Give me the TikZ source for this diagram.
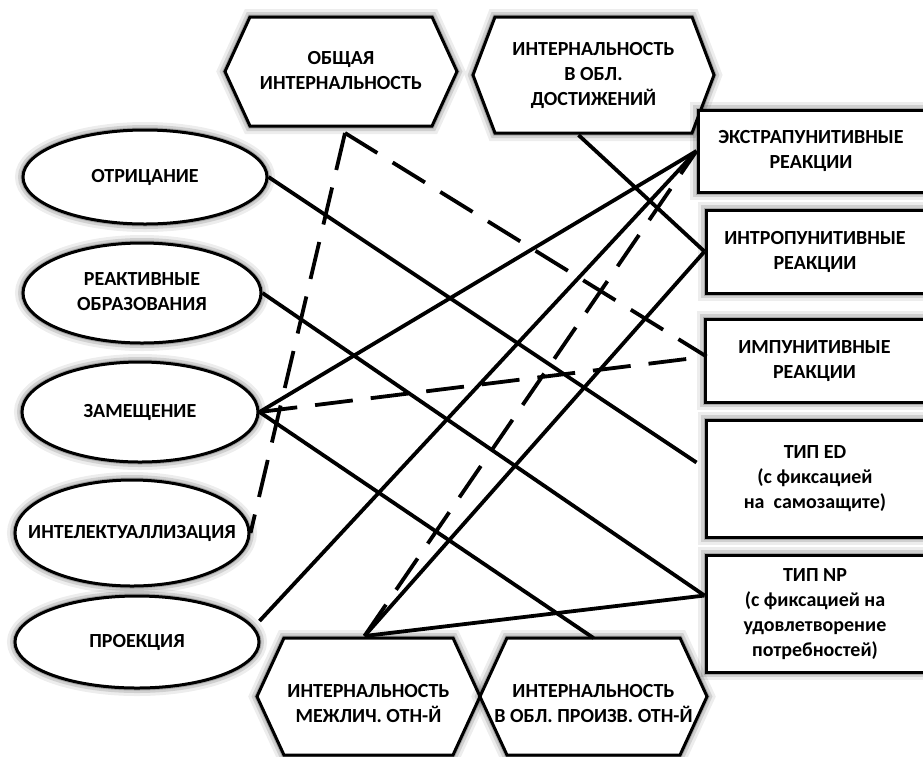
\documentclass[tikz,border=0pt]{standalone}
\usepackage{fontspec}
\setmainfont{Carlito}
\usetikzlibrary{calc,shapes.geometric}
\pgfdeclarelayer{back}
\pgfsetlayers{back,main}

% centred block of lines
\newcommand\stack[1]{\begin{tabular}{@{}c@{}}#1\end{tabular}}
% centred block that does not widen its node
\newcommand\slim[1]{\makebox[0pt]{\stack{#1}}}
% block drawn lower than its node centre
\newcommand\lowstack[1]{\raisebox{-8pt}[\height][\depth]{\stack{#1}}}

\tikzset{
  glow/.style={
    preaction={draw=black, line width=16pt, opacity=0.07},
    preaction={draw=black, line width=10pt, opacity=0.12},
    preaction={draw=black, line width=5pt, opacity=0.2}},
  lbl/.style={font=\bfseries\fontsize{20}{25}\selectfont, text=black},
  defense/.style={lbl, ellipse, draw, line width=3pt, fill=white, glow,
    inner sep=0pt},
  reaction/.style={lbl, rectangle, draw, line width=3pt, fill=white, glow,
    inner sep=0pt},
  hexnode/.style={lbl, inner sep=0pt, outer sep=0pt},
  hexline/.style={draw, line width=3pt, fill=white, glow, line join=miter},
  link/.style={draw=black, line width=3.8pt},
  dlink/.style={link, dash pattern=on 38pt off 18pt}
}

\begin{document}
\begin{tikzpicture}[x=1pt, y=-1pt]
\useasboundingbox (0,0) rectangle (923,756);
\clip (0,0) rectangle (923,756);

% defence mechanisms
\node[defense, minimum width=244pt, minimum height=94pt]  (otr)   at (145,177) {\slim{ОТРИЦАНИЕ}};
\node[defense, minimum width=238pt, minimum height=100pt] (react) at (142,293) {\slim{РЕАКТИВНЫЕ\\ОБРАЗОВАНИЯ}};
\node[defense, minimum width=236pt, minimum height=100pt] (zam)   at (140,412) {\slim{ЗАМЕЩЕНИЕ}};
\node[defense, minimum width=234pt, minimum height=106pt] (intel) at (132,533) {\slim{ИНТЕЛЕКТУАЛЛИЗАЦИЯ}};
\node[defense, minimum width=244pt, minimum height=92pt]  (proek) at (137,642) {\slim{ПРОЕКЦИЯ}};

% reaction types
\node[reaction, minimum width=226pt, minimum height=82pt]  (extra) at (811,151)   {\stack{ЭКСТРАПУНИТИВНЫЕ\\РЕАКЦИИ}};
\node[reaction, minimum width=218pt, minimum height=83pt]  (intro) at (815,251.5) {\stack{ИНТРОПУНИТИВНЫЕ\\РЕАКЦИИ}};
\node[reaction, minimum width=219pt, minimum height=83pt]  (impun) at (814.5,360.5) {\stack{ИМПУНИТИВНЫЕ\\РЕАКЦИИ}};
\node[reaction, minimum width=218pt, minimum height=117pt] (ted)   at (815,478.5) {\stack{ТИП ED\\(с фиксацией\\на\ \ самозащите)}};
\node[reaction, minimum width=218pt, minimum height=117pt] (tnp)   at (815,613.5) {\stack{ТИП NP\\(с фиксацией на\\удовлетворение\\потребностей)}};

% internality scales
\node[hexnode, minimum width=232pt, minimum height=109pt] (obsh)   at (341,71.5)  {\stack{ОБЩАЯ\\ИНТЕРНАЛЬНОСТЬ}};
\node[hexnode, minimum width=241pt, minimum height=116pt] (dost)   at (593.5,75)  {\stack{ИНТЕРНАЛЬНОСТЬ\\В ОБЛ.\\ДОСТИЖЕНИЙ}};
\node[hexnode, minimum width=223pt, minimum height=117pt] (mezh)   at (368.5,696.5) {\lowstack{ИНТЕРНАЛЬНОСТЬ\\МЕЖЛИЧ. ОТН-Й}};
\node[hexnode, minimum width=227pt, minimum height=117pt] (proizv) at (593.5,696.5) {\lowstack{ИНТЕРНАЛЬНОСТЬ\\В ОБЛ. ПРОИЗВ. ОТН-Й}};

\begin{pgfonlayer}{back}
  \clip (0,0) rectangle (923,756);
  \foreach \n/\c in {obsh/25, dost/22, mezh/27, proizv/27} {
    \path[hexline] (\n.west) -- ([xshift=\c pt]\n.north west)
      -- ([xshift=-\c pt]\n.north east) -- (\n.east)
      -- ([xshift=-\c pt]\n.south east) -- ([xshift=\c pt]\n.south west) -- cycle;
  }
\end{pgfonlayer}

% connector ends
\coordinate (obshfoot) at ($(obsh.south)+(4,7)$);
\coordinate (dostfoot) at ($(dost.south)+(-15,2)$);
\coordinate (mezhtop)  at ($(mezh.north)+(-4,-2)$);
\coordinate (proekout) at ($(proek.east)+(-1,-21)$);
\coordinate (tedin)    at ($(ted.west)+(-8,-16)$);
\coordinate (tnpin)    at ($(tnp.west)+(0,-18)$);
\coordinate (impunin)  at ($(impun.west)+(3,-4)$);

% solid links
\draw[link] (otr.east) -- (tedin);
\draw[link] (react.east) -- (tnpin);
\draw[link] (zam.east) -- (extra.west);
\draw[link] (zam.east) -- (proizv.north);
\draw[link] (proekout) -- (extra.west);
\draw[link] (mezhtop) -- (intro.west);
\draw[link] (mezhtop) -- (tnpin);
\draw[link] (dostfoot) -- (intro.west);

% dashed links
\draw[dlink] (obshfoot) -- (intel.east);
\draw[dlink] (obshfoot) -- (impunin);
\draw[dlink] (zam.east) -- (impunin);
\draw[dlink] (mezhtop) -- (extra.west);
\end{tikzpicture}
\end{document}
